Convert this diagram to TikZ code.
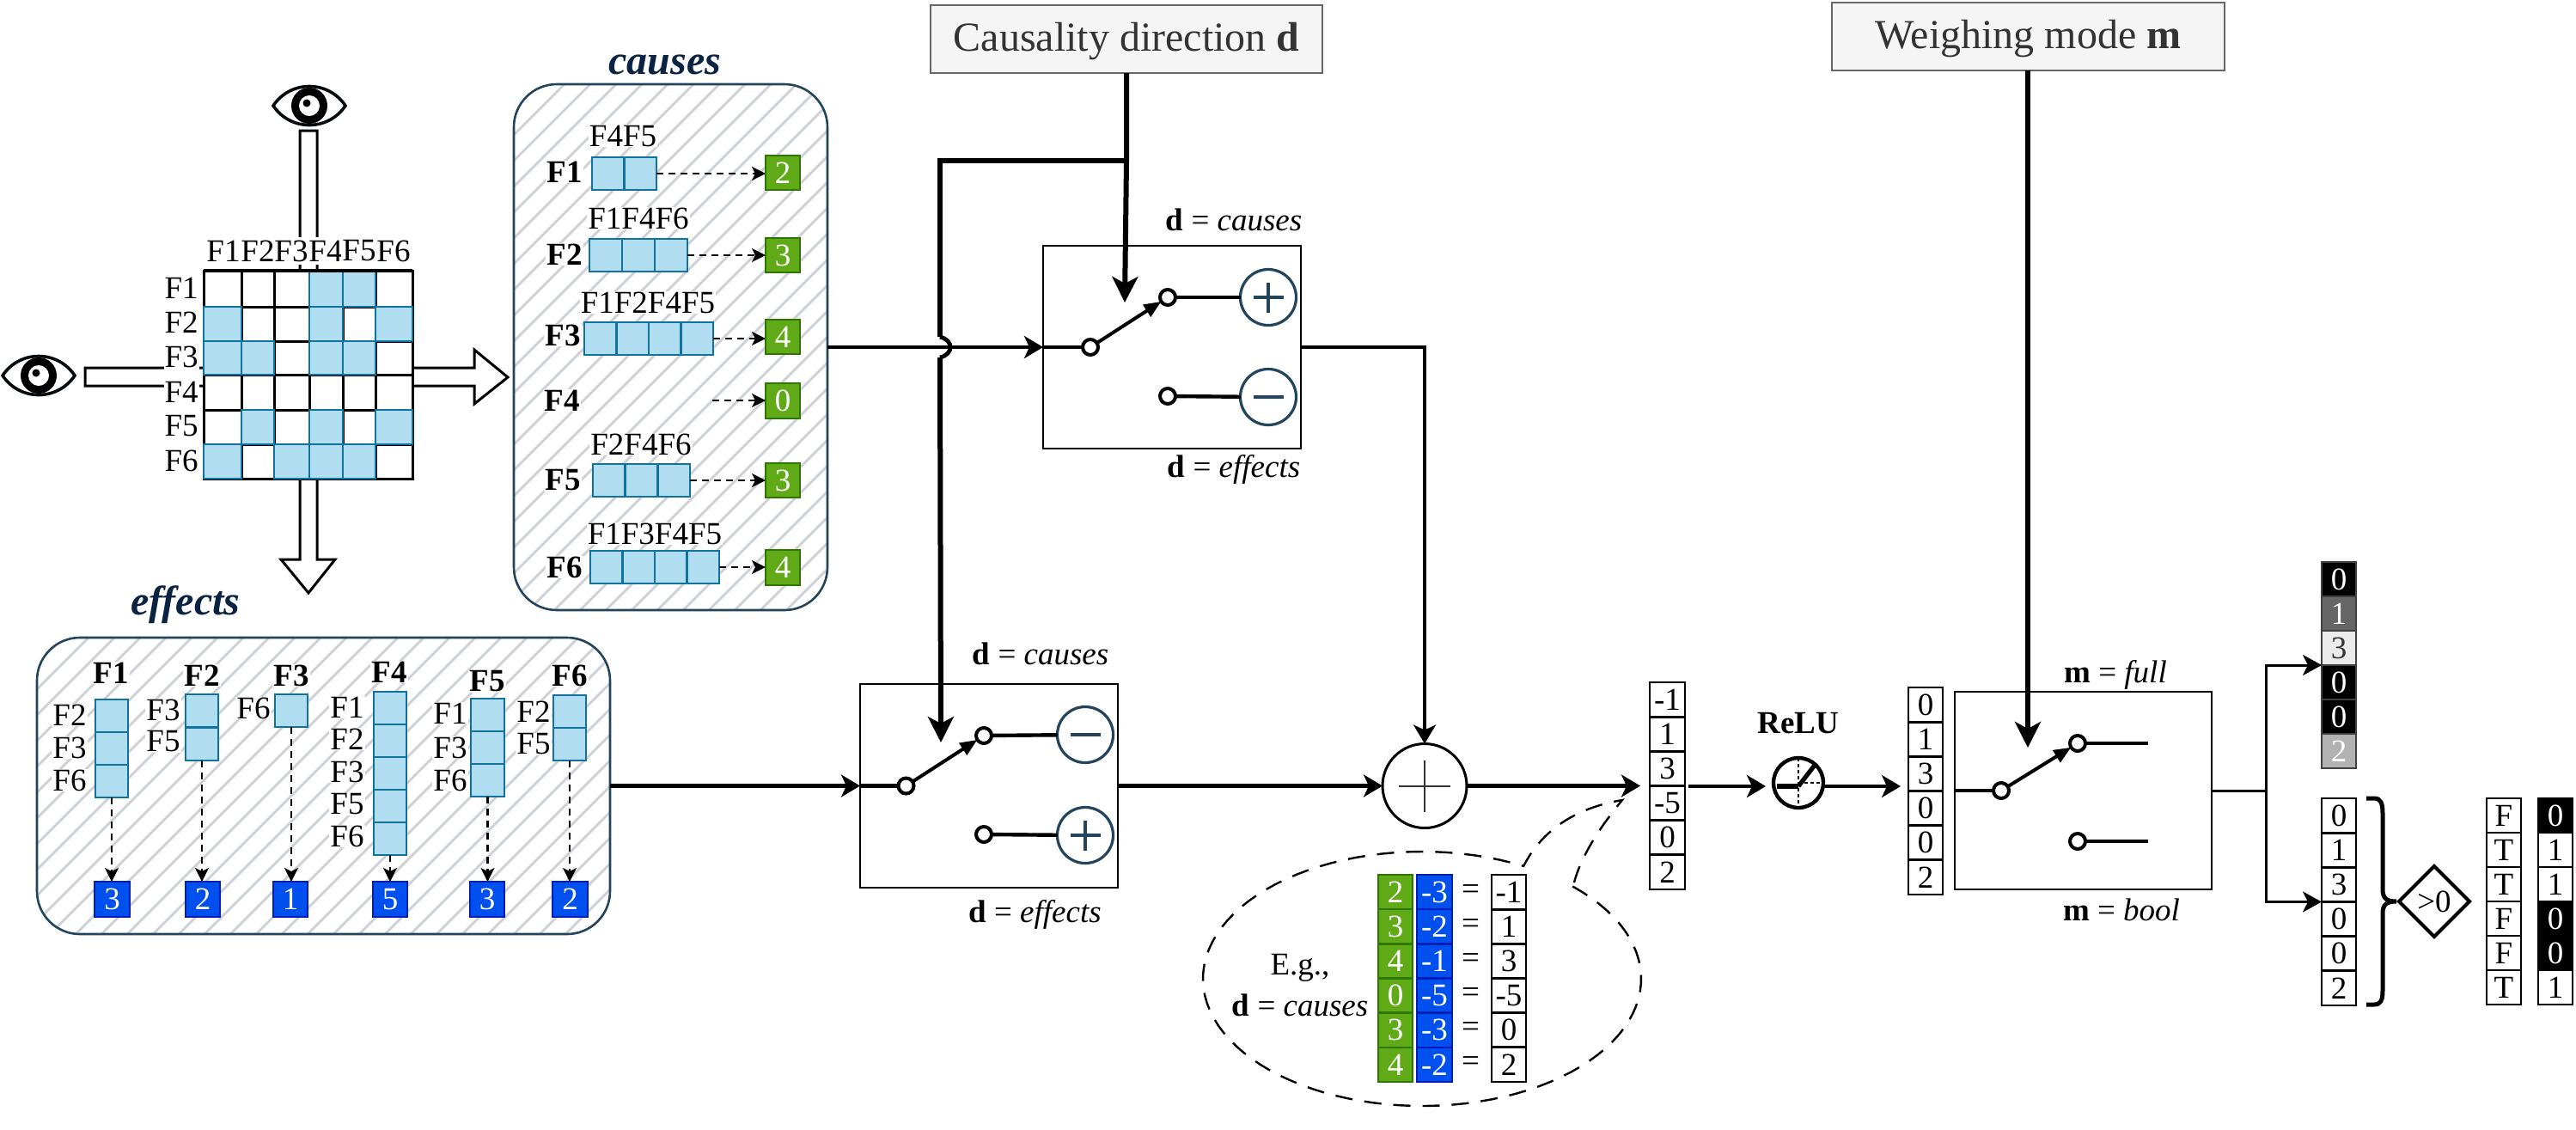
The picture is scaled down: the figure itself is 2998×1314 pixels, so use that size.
\documentclass[tikz,border=0pt]{standalone}
\usepackage{fontspec}
\setmainfont{Liberation Serif}
\usetikzlibrary{arrows.meta,shapes.geometric,calc}
\newcommand{\fs}{\fontsize{18.5pt}{20pt}\selectfont}
\newcommand{\fb}{\fontsize{24pt}{26pt}\selectfont}
\definecolor{cellfill}{HTML}{B1DDF0}
\definecolor{cellstroke}{HTML}{10739E}
\definecolor{grfill}{HTML}{60A917}
\definecolor{grstroke}{HTML}{2D7600}
\definecolor{blfill}{HTML}{0050EF}
\definecolor{blstroke}{HTML}{001DBC}
\definecolor{navy}{HTML}{23445D}
\definecolor{titlecol}{HTML}{0A2342}
\definecolor{hatchcol}{HTML}{CDD1D7}
\tikzset{
  cellb/.style={fill=cellfill,draw=cellstroke,line width=1.4pt},
  grb/.style={fill=grfill,draw=grstroke,line width=1.2pt,text=white,font=\fs},
  blb/.style={fill=blfill,draw=blstroke,line width=1.2pt,text=white,font=\fs},
  vc/.style={fill=white,draw=black,line width=1.4pt,font=\fs},
  heat/.style={draw=black!75,line width=1.4pt,font=\fs},
  lab/.style={font=\fs,inner sep=0.5pt,fill=white},
  txt/.style={font=\fs,inner sep=0pt},
  title/.style={font=\fb\bfseries\itshape,text=titlecol,inner sep=0pt},
  gbox/.style={fill=black!4,draw=black!60,line width=1.3pt,font=\fb,text=black!80,text height=14pt,text depth=0pt},
  swbox/.style={fill=white,draw=black,line width=1.3pt},
  hbox/.style={draw=navy,line width=1.3pt,rounded corners=25pt},
  term/.style={circle,draw=black,fill=white,line width=2pt,minimum size=9pt,inner sep=0pt,outer sep=0pt},
  sign/.style={circle,draw=navy,fill=white,line width=1.6pt,minimum size=32.5pt,inner sep=0pt,outer sep=0pt},
  signline/.style={draw=navy,line width=2pt},
  main/.style={draw=black,line width=2.1pt,-{Stealth[length=11pt,width=13pt,inset=3pt]}},
  wire/.style={draw=black,line width=2.2pt},
  thick6/.style={draw=black,line width=3pt},
  thickarrow/.style={draw=black,line width=3pt,-{Stealth[length=15pt,width=15pt,inset=4pt]}},
  arm/.style={draw=black,line width=2pt,-{Stealth[length=10pt,width=8pt,inset=0pt]}},
  dasharrow/.style={draw=black,line width=1.1pt,dash pattern=on 4pt off 3pt,-{Stealth[length=8pt,width=8pt,inset=2pt]}},
  blockarrow/.style={fill=white,draw=black,line width=1.5pt,line join=miter},
}
\newcommand{\pxbox}[7]{%
  \pgfmathsetmacro\cxx{(#2+#4)/2}\pgfmathsetmacro\cyy{(#3+#5)/2}%
  \pgfmathsetmacro\wdd{abs(#4-#2)*0.5}\pgfmathsetmacro\htt{abs(#5-#3)*0.5}%
  \node[#6,minimum width=\wdd pt,minimum height=\htt pt,inner sep=0pt,outer sep=0pt] (#1) at (\cxx,\cyy) {#7};}
\newcommand{\vcells}[7]{%
  \pgfmathsetmacro\hh{(#5-#4)/#6}%
  \foreach \kk in {1,...,#6}{%
    \pgfmathsetmacro\ya{#4+(\kk-1)*\hh}\pgfmathsetmacro\yb{\ya+\hh}%
    \pxbox{#1-\kk}{#2}{\ya}{#3}{\yb}{#7}{}}}
\newcommand{\hcells}[7]{%
  \pgfmathsetmacro\ww{(#3-#2)/#6}%
  \foreach \kk in {1,...,#6}{%
    \pgfmathsetmacro\xa{#2+(\kk-1)*\ww}\pgfmathsetmacro\xb{\xa+\ww}%
    \pxbox{#1-\kk}{\xa}{#4}{\xb}{#5}{#7}{}}}
\newcommand{\vlist}[7]{%
  \pgfmathsetmacro\hh{(#5-#4)/6}%
  \foreach \val [count=\kk] in {#7}{%
    \pgfmathsetmacro\ya{#4+(\kk-1)*\hh}\pgfmathsetmacro\yb{\ya+\hh}%
    \pxbox{#1-\kk}{#2}{\ya}{#3}{\yb}{#6}{\val}}}
\newcommand{\hatchregion}[4]{%
  \begin{scope}
    \clip[rounded corners=25pt] (#1,#2) rectangle (#3,#4);
    \fill[white] (#1,#2) rectangle (#3,#4);
    \foreach \hh in {-405,-375,...,705}{\draw[hatchcol,line width=1.4pt] (\hh,1100) -- ({\hh+1100},0);}
  \end{scope}}
\newcommand{\eyeicon}[2]{%
  \begin{scope}[shift={(#1,#2)}]
    \draw[black!85!navy,line width=1.8pt,fill=white] (-42,0) .. controls (-22,-30) and (22,-30) .. (42,0) .. controls (22,30) and (-22,30) .. (-42,0) -- cycle;
    \fill[black] (0,0) circle[radius=21];
    \fill[white] (0,0) circle[radius=12];
    \fill[black] (-3,-3) circle[radius=4.5];
  \end{scope}}
\begin{document}
\begin{tikzpicture}[x=0.5pt,y=-0.5pt]
\useasboundingbox (0,0) rectangle (2998,1314);
\fill[white] (0,0) rectangle (2998,1314);

% eyes and block arrows
\eyeicon{360}{123}
\eyeicon{45}{437}
\draw[blockarrow] (349,152) -- (369,152) -- (369,651) -- (390,651) -- (359,690) -- (327,651) -- (349,651) -- cycle;
\draw[blockarrow] (99,428) -- (552,428) -- (552,407) -- (591,439) -- (552,470) -- (552,449) -- (99,449) -- cycle;

% matrix
\foreach \cc/\xx in {1/260,2/300,3/339,4/379,5/418,6/458}{
  \node[lab,minimum height=16pt] (ct\cc) at (\xx,292) {F\cc};
}
\foreach \rr/\yy in {1/335,2/375,3/415,4/456,5/496,6/536}{
  \node[lab,anchor=east,minimum height=20pt] (rt\rr) at (232,\yy) {F\rr};
}
\foreach \rr in {1,...,6}{\foreach \cc in {1,...,6}{
  \pgfmathsetmacro\xa{{237,281,319,360,399,437,480}[\cc-1]}
  \pgfmathsetmacro\xb{{237,281,319,360,399,437,480}[\cc]}
  \pgfmathsetmacro\ya{{315,357,397,436,477,517,557}[\rr-1]}
  \pgfmathsetmacro\yb{{315,357,397,436,477,517,557}[\rr]}
  \pxbox{m\rr\cc}{\xa}{\ya}{\xb}{\yb}{fill=white,draw=black,line width=1.5pt}{}
}}
\foreach \rr/\cc in {1/4,1/5,2/1,2/4,2/6,3/1,3/2,3/4,3/5,5/2,5/4,5/6,6/1,6/3,6/4,6/5}{
  \pgfmathsetmacro\xa{{237,281,319,360,399,437,480}[\cc-1]}
  \pgfmathsetmacro\xb{{237,281,319,360,399,437,480}[\cc]}
  \pgfmathsetmacro\ya{{315,357,397,436,477,517,557}[\rr-1]}
  \pgfmathsetmacro\yb{{315,357,397,436,477,517,557}[\rr]}
  \pxbox{mb\rr\cc}{\xa}{\ya}{\xb}{\yb}{cellb}{}
}
\draw[black,line width=2.2pt] (m11.north west) -- (m11.north west -| m16.north east);

% causes box
\hatchregion{598}{98}{963}{710}
\pxbox{causes}{598}{98}{963}{710}{hbox}{}
\node[title] (causestitle) at (774,75) {causes};

\node[lab] (cl1) at (725,158) {F4F5};
\hcells{c1}{689}{764}{183}{221}{2}{cellb}
\node[lab,font=\fs\bfseries] (cf1) at (657,200) {F1};
\pxbox{g1}{891}{181}{931}{221}{grb}{2}
\draw[dasharrow] (c1-2.east) -- (c1-2.east -| g1.west);

\node[lab] (cl2) at (743,254) {F1F4F6};
\hcells{c2}{686}{800}{278}{316}{3}{cellb}
\node[lab,font=\fs\bfseries] (cf2) at (657,296) {F2};
\pxbox{g2}{891}{277}{931}{317}{grb}{3}
\draw[dasharrow] (c2-3.east) -- (c2-3.east -| g2.west);

\node[lab] (cl3) at (754,352) {F1F2F4F5};
\hcells{c3}{680}{830}{375}{413}{4}{cellb}
\node[lab,font=\fs\bfseries] (cf3) at (655,390) {F3};
\pxbox{g3}{891}{372}{931}{412}{grb}{4}
\draw[dasharrow] (c3-4.east) -- (c3-4.east -| g3.west);

\node[lab,font=\fs\bfseries] (cf4) at (654,466) {F4};
\pxbox{g4}{891}{446}{931}{487}{grb}{0}
\coordinate (g4start) at (829,466);
\draw[dasharrow] (g4start) -- (g4start -| g4.west);

\node[lab] (cl5) at (746,517) {F2F4F6};
\hcells{c5}{690}{803}{540}{578}{3}{cellb}
\node[lab,font=\fs\bfseries] (cf5) at (655,559) {F5};
\pxbox{g5}{891}{539}{931}{579}{grb}{3}
\draw[dasharrow] (c5-3.east) -- (c5-3.east -| g5.west);

\node[lab] (cl6) at (762,621) {F1F3F4F5};
\hcells{c6}{687}{837}{641}{679}{4}{cellb}
\node[lab,font=\fs\bfseries] (cf6) at (657,660) {F6};
\pxbox{g6}{891}{640}{931}{681}{grb}{4}
\draw[dasharrow] (c6-4.east) -- (c6-4.east -| g6.west);

% effects box
\hatchregion{43}{742}{710}{1087}
\pxbox{effects}{43}{742}{710}{1087}{hbox}{}
\node[title] (effectstitle) at (216,704) {effects};

\node[lab,font=\fs\bfseries] (ef1) at (129,783) {F1};
\node[lab,font=\fs\bfseries] (ef2) at (235,786) {F2};
\node[lab,font=\fs\bfseries] (ef3) at (339,786) {F3};
\node[lab,font=\fs\bfseries] (ef4) at (453,782) {F4};
\node[lab,font=\fs\bfseries] (ef5) at (567,793) {F5};
\node[lab,font=\fs\bfseries] (ef6) at (663,786) {F6};

\vcells{e1}{111}{149}{814}{928}{3}{cellb}
\vcells{e2}{216}{254}{808}{885}{2}{cellb}
\vcells{e3}{320}{358}{808}{846}{1}{cellb}
\vcells{e4}{435}{473}{805}{995}{5}{cellb}
\vcells{e5}{548}{587}{813}{927}{3}{cellb}
\vcells{e6}{644}{682}{809}{885}{2}{cellb}
\foreach \nm/\tx/\xx/\yy in {a/F2/81/832,b/F3/81/870,c/F6/81/908,d/F3/190/826,e/F5/190/863,f/F6/295/824,g/F1/404/823,h/F2/404/860,k/F3/404/898,l/F5/404/936,n/F6/404/973,o/F1/524/830,p/F3/524/870,q/F6/524/908,r/F2/621/828,s/F5/621/866}{
  \node[lab] (el\nm) at (\xx,\yy) {\tx};
}
\pxbox{b1}{110}{1026}{151}{1067}{blb}{3}
\pxbox{b2}{216}{1026}{256}{1067}{blb}{2}
\pxbox{b3}{318}{1026}{358}{1067}{blb}{1}
\pxbox{b4}{434}{1026}{474}{1067}{blb}{5}
\pxbox{b5}{547}{1026}{587}{1067}{blb}{3}
\pxbox{b6}{643}{1026}{684}{1067}{blb}{2}
\draw[dasharrow] (e1-3.south) -- (e1-3.south |- b1.north);
\draw[dasharrow] (e2-2.south) -- (e2-2.south |- b2.north);
\draw[dasharrow] (e3-1.south) -- (e3-1.south |- b3.north);
\draw[dasharrow] (e4-5.south) -- (e4-5.south |- b4.north);
\draw[dasharrow] (e5-3.south) -- (e5-3.south |- b5.north);
\draw[dasharrow] (e6-2.south) -- (e6-2.south |- b6.north);

% control boxes
\pxbox{dbox}{1083}{6}{1539}{85}{gbox}{Causality direction \textbf{d}}
\pxbox{mbox}{2132}{3}{2589}{82}{gbox}{Weighing mode \textbf{m}}

% switch 1
\pxbox{sw1}{1214}{286}{1514}{522}{swbox}{}
\node[term] (p1) at (1269,404) {};
\node[term] (t1a) at (1359,346) {};
\node[term] (t1b) at (1359,461) {};
\node[sign] (s1a) at (1476,346) {};
\node[sign] (s1b) at (1476,462) {};
\draw[signline] ([xshift=-8.75pt]s1a.center) -- ([xshift=8.75pt]s1a.center);
\draw[signline] ([yshift=-8.75pt]s1a.center) -- ([yshift=8.75pt]s1a.center);
\draw[signline] ([xshift=-8.75pt]s1b.center) -- ([xshift=8.75pt]s1b.center);
\draw[wire] (sw1.west) -- (p1);
\draw[wire] (t1a) -- (s1a);
\draw[wire] (t1b) -- (s1b);
\draw[arm] (p1) -- (t1a);
\node[txt] (l1a) at (1436,256) {\textbf{d} = \textit{causes}};
\node[txt] (l1b) at (1436,546) {\textbf{d} = \textit{effects}};

% switch 2
\pxbox{sw2}{1001}{796}{1301}{1033}{swbox}{}
\node[term] (p2) at (1054.5,914.5) {};
\node[term] (t2a) at (1145,856) {};
\node[term] (t2b) at (1145,971) {};
\node[sign] (s2a) at (1263,855) {};
\node[sign] (s2b) at (1263,972) {};
\draw[signline] ([xshift=-8.75pt]s2a.center) -- ([xshift=8.75pt]s2a.center);
\draw[signline] ([xshift=-8.75pt]s2b.center) -- ([xshift=8.75pt]s2b.center);
\draw[signline] ([yshift=-8.75pt]s2b.center) -- ([yshift=8.75pt]s2b.center);
\draw[wire] (sw2.west) -- (p2);
\draw[wire] (t2a) -- (s2a);
\draw[wire] (t2b) -- (s2b);
\draw[arm] (p2) -- (t2a);
\node[txt] (l2a) at (1211,761) {\textbf{d} = \textit{causes}};
\node[txt] (l2b) at (1204.5,1064) {\textbf{d} = \textit{effects}};

% sum
\node[circle,draw=black,fill=white,line width=1.5pt,minimum size=49pt,inner sep=0pt,outer sep=0pt] (sum) at (1658,914.5) {};
\draw[black!80,line width=1pt] ([xshift=-15pt]sum.center) -- ([xshift=15pt]sum.center);
\draw[black!80,line width=1pt] ([yshift=-15pt]sum.center) -- ([yshift=15pt]sum.center);

% connectors
\draw[main] (causes.east) -- (sw1.west);
\draw[main] (effects.east) -- (sw2.west);
\coordinate (dc) at (1094,187);
\coordinate (dj) at (dbox.south |- dc);
\coordinate (dt1) at (1309,352);
\draw[thickarrow] (dbox.south) -- (dj) -- (dt1);
\coordinate (ja) at (1094,392);
\coordinate (jb) at (1094,416);
\coordinate (dt2) at (1095,864);
\draw[thick6,line join=miter] (dj) -- (dc) -- (ja);
\draw[black,line width=2.4pt] (ja) .. controls (1110,396) and (1110,412) .. (jb);
\draw[thickarrow] (jb) -- (dt2);
\coordinate (so) at (1658,404);
\draw[wire,-{Stealth[length=11pt,width=13pt,inset=3pt]}] (sw1.east) -- (so) -- (sum.north);
\draw[main] (sw2.east) -- (sum.west);
\coordinate (st) at (1909,914.5);
\draw[main] (sum.east) -- (st);

% result vector
\vlist{v1}{1920}{1961}{794}{1035}{vc}{-1,1,3,-5,0,2}

% callout
\draw[black,line width=1.2pt,dash pattern=on 10pt off 7pt]
  plot[domain=46.6:-297.6,samples=100] ({1655+255*cos(\x)},{1139-148*sin(\x)})
  .. controls (1795,965) and (1835,940) .. (1888,931)
  .. controls (1860,965) and (1838,1000) .. (1831,1031);
\vlist{cg}{1604}{1644}{1018}{1259}{grb}{2,3,4,0,3,4}
\vlist{cb}{1649}{1690}{1018}{1259}{blb}{-3,-2,-1,-5,-3,-2}
\vlist{cr}{1736}{1776}{1018}{1259}{vc}{-1,1,3,-5,0,2}
\foreach \kk/\yy in {1/1038,2/1078,3/1118,4/1158,5/1198,6/1238}{
  \node[txt] (ceq\kk) at (1711.5,\yy) {=};
}
\node[txt] (eg) at (1513,1126) {E.g.,};
\node[txt] (egd) at (1513,1170) {\textbf{d} = \textit{causes}};

% ReLU
\node[txt,font=\fs\bfseries] (relutxt) at (2093,842) {ReLU};
\node[circle,draw=black,fill=white,line width=2.2pt,minimum size=29pt,inner sep=0pt,outer sep=0pt] (relu) at (2093,911) {};
\draw[black,line width=0.6pt,dash pattern=on 2pt off 1.5pt] (relu.north) -- (relu.south);
\draw[black,line width=0.6pt,dash pattern=on 2pt off 1.5pt] (relu.center) -- (relu.east);
\coordinate (rl) at (2068,915);
\coordinate (rm) at (2093,915);
\coordinate (rt) at (2113,889);
\draw[black,line width=3.2pt] (rl) -- (rm);
\draw[black,line width=2.6pt] (rm) -- (rt);
\coordinate (ri) at (1965,915);
\coordinate (rit) at (2055,915);
\coordinate (ro) at (2124,915);
\coordinate (rot) at (2212,915);
\draw[main] (ri) -- (rit);
\draw[main] (ro) -- (rot);

% vector 2 and switch 3
\vlist{v2}{2221}{2261}{800}{1041}{vc}{0,1,3,0,0,2}
\pxbox{sw3}{2275}{805}{2574}{1035}{swbox}{}
\node[term] (p3) at (2329,920) {};
\node[term] (t3a) at (2418,865) {};
\node[term] (t3b) at (2418,979) {};
\coordinate (e3a) at (2500,865);
\coordinate (e3b) at (2500,979);
\draw[wire] (sw3.west) -- (p3);
\draw[wire] (t3a) -- (e3a);
\draw[wire] (t3b) -- (e3b);
\draw[arm] (p3) -- (t3a);
\coordinate (mt) at (2360,870);
\draw[thickarrow] (mbox.south -| mt) -- (mt);
\node[txt] (l3a) at (2462,785) {\textbf{m} = \textit{full}};
\node[txt] (l3b) at (2469,1059) {\textbf{m} = \textit{bool}};

% outputs
\pxbox{h1}{2702}{654}{2742}{694}{heat,fill=black,text=white}{0}
\pxbox{h2}{2702}{694}{2742}{734}{heat,fill=black!60,text=white}{1}
\pxbox{h3}{2702}{734}{2742}{774}{heat,fill=black!8,text=black!80}{3}
\pxbox{h4}{2702}{774}{2742}{814}{heat,fill=black,text=white}{0}
\pxbox{h5}{2702}{814}{2742}{854}{heat,fill=black,text=white}{0}
\pxbox{h6}{2702}{854}{2742}{894}{heat,fill=black!30,text=white}{2}
\vlist{v3}{2702}{2742}{929}{1170}{vc}{0,1,3,0,0,2}
\coordinate (oj) at (2637,920);
\draw[draw=black,line width=1.5pt] (sw3.east) -- (oj);
\draw[draw=black,line width=1.5pt,-{Stealth[length=11pt,width=12pt,inset=3pt]}] (oj) |- (h3.south west);
\draw[draw=black,line width=1.5pt,-{Stealth[length=11pt,width=12pt,inset=3pt]}] (oj) |- (v3-3.south west);

\draw[black,line width=2.5pt] (2754,929) -- (2763,929) .. controls (2771,929) and (2773,935) .. (2773,947)
  -- (2773,1035) .. controls (2773,1045) and (2777,1049) .. (2789,1049)
  .. controls (2777,1049) and (2773,1053) .. (2773,1063)
  -- (2773,1152) .. controls (2773,1164) and (2771,1169) .. (2763,1169) -- (2754,1169);
\node[diamond,draw=black,line width=2pt,shape aspect=1,minimum width=41pt,minimum height=41pt,inner sep=0pt,outer sep=0pt,font=\fs] (dia) at (2833,1049) {>0};
\vlist{v4}{2894}{2934}{929}{1169}{vc}{F,T,T,F,F,T}
\pxbox{w1}{2954}{929}{2994}{969}{vc,fill=black,text=white}{0}
\pxbox{w2}{2954}{969}{2994}{1009}{vc}{1}
\pxbox{w3}{2954}{1009}{2994}{1049}{vc}{1}
\pxbox{w4}{2954}{1049}{2994}{1089}{vc,fill=black,text=white}{0}
\pxbox{w5}{2954}{1089}{2994}{1129}{vc,fill=black,text=white}{0}
\pxbox{w6}{2954}{1129}{2994}{1169}{vc}{1}
\end{tikzpicture}
\end{document}
